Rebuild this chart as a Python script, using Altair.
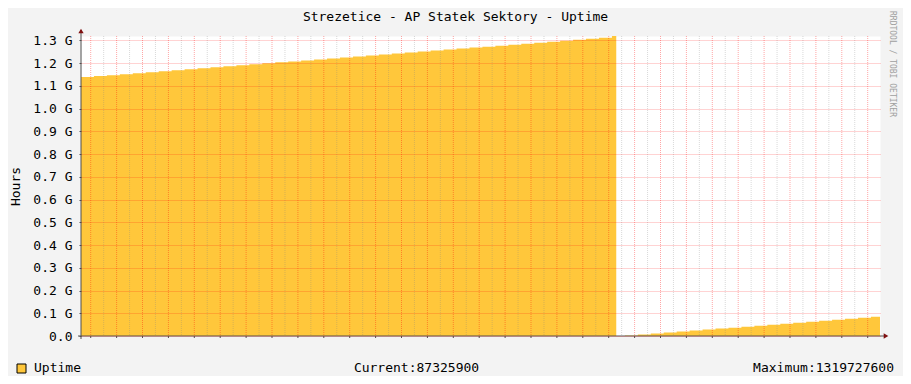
import json
import altair as alt
import pandas as pd

# ---------------- data ----------------
title_text = "Strezetice - AP Statek Sektory - Uptime"
y_title = "Hours"
series_name = "Uptime"
watermark = "RRDTOOL / TOBI OETIKER"
current_value = 87325900
maximum_value = 1319727600

# hours relative to Wednesday 00:00 of the first full day
hours = [-9, 3, 15, 27, 39, 51, 63, 75, 87, 99, 111, 123, 135, 147, 159, 171,
         183, 195, 207, 219, 231, 243, 255, 267, 279, 291, 303, 315, 327, 339,
         351, 363, 375, 387, 399, 411, 423, 435, 447, 459, 471, 483,
         487,
         495, 507, 519, 531, 543, 555, 567, 579, 591, 603, 615, 627, 639, 651,
         663, 675, 687, 699, 711, 723,
         731.4]

# uptime values in millions
uptime_millions = [1139.0, 1143.3, 1147.6, 1152.0, 1156.3, 1160.6, 1164.9, 1169.2,
                   1173.6, 1177.9, 1182.2, 1186.5, 1190.8, 1195.2, 1199.5, 1203.8,
                   1208.1, 1212.4, 1216.8, 1221.1, 1225.4, 1229.7, 1234.0, 1238.4,
                   1242.7, 1247.0, 1251.3, 1255.6, 1260.0, 1264.3, 1268.6, 1272.9,
                   1277.2, 1281.6, 1285.9, 1290.2, 1294.5, 1298.8, 1303.2, 1307.5,
                   1311.8, 1319.7276,
                   0.0,
                   2.2, 6.6, 10.9, 15.2, 19.5, 23.8, 28.2, 32.5, 36.8, 41.1,
                   45.4, 49.8, 54.1, 58.4, 62.7, 67.0, 71.4, 75.7, 80.0, 84.3,
                   84.3]

day_names = ["Wed", "Thu", "Fri", "Sat", "Sun", "Mon", "Tue"]
label_hours = [36, 84, 132, 180, 228, 276, 324, 372, 420, 468, 516, 564, 612, 660, 708]
midnight_hours = [0, 24, 48, 72, 96, 120, 144, 168, 192, 216, 240, 264, 288, 312, 336,
                  360, 384, 408, 432, 456, 480, 504, 528, 552, 576, 600, 624, 648, 672,
                  696, 720]
noon_hours = [12, 36, 60, 84, 108, 132, 156, 180, 204, 228, 252, 276, 300, 324, 348,
              372, 396, 420, 444, 468, 492, 516, 540, 564, 588, 612, 636, 660, 684, 708]
y_ticks = [0, 100, 200, 300, 400, 500, 600, 700, 800, 900, 1000, 1100, 1200, 1300]

# ---------------- layout / style ----------------
W, H = 799, 300
X_DOMAIN = [-9, 731.4]
Y_DOMAIN = [0, maximum_value / 1e6]
FONT = "DejaVu Sans Mono"
FS = 13
ORANGE = "#FFC73B"
AXIS_COL = "#505050"
ARROW_COL = "#7F1010"

df = pd.DataFrame({"h": hours, "v": uptime_millions})
xs = alt.Scale(domain=X_DOMAIN, nice=False, zero=False)
ys = alt.Scale(domain=Y_DOMAIN, nice=False, zero=True)

label_expr = json.dumps(day_names) + "[floor(datum.value / 24) % 7]"

area = alt.Chart(df).mark_area(
    interpolate="step-after", color=ORANGE, opacity=1
).encode(
    x=alt.X("h:Q", scale=xs, axis=alt.Axis(
        values=label_hours, labelExpr=label_expr, domain=False, ticks=False,
        grid=False, labelFont=FONT, labelFontSize=FS, labelColor="black",
        labelPadding=5, title=None, labelFlush=False, labelOverlap=False)),
    y=alt.Y("v:Q", scale=ys, axis=alt.Axis(
        values=y_ticks,
        labelExpr="datum.value == 0 ? '0.0' : format(datum.value / 1000, '.1f') + ' G'",
        domain=False, ticks=True, tickSize=2, tickColor=AXIS_COL,
        labelFont=FONT, labelFontSize=FS, labelColor="black", labelPadding=7,
        grid=True, gridColor="#FF0000", gridOpacity=0.35, gridDash=[1, 1],
        zindex=1, title=y_title, titleFont=FONT, titleFontSize=FS,
        titleFontWeight="normal", titleColor="black", titleX=-66, titleY=H / 2,
        titleAngle=270, titleAlign="center", titleBaseline="middle",
        labelOverlap=False, labelFlush=False)),
)

mid_df = pd.DataFrame({"h": midnight_hours})
noon_df = pd.DataFrame({"h": noon_hours})

grid_mid = alt.Chart(mid_df).mark_rule(
    color="#FF0000", opacity=0.35, strokeDash=[1, 1], strokeWidth=1
).encode(x=alt.X("h:Q", scale=xs, axis=None), y=alt.value(0), y2=alt.value(H))

grid_noon = alt.Chart(noon_df).mark_rule(
    color="#808080", opacity=0.3, strokeDash=[1, 1], strokeWidth=1
).encode(x=alt.X("h:Q", scale=xs, axis=None), y=alt.value(0), y2=alt.value(H))

x_ticks = alt.Chart(mid_df).mark_rule(color=AXIS_COL, strokeWidth=1).encode(
    x=alt.X("h:Q", scale=xs, axis=None), y=alt.value(H), y2=alt.value(H + 2))

one = pd.DataFrame({"k": [0]})
y_axis_line = alt.Chart(one).mark_rule(color=AXIS_COL, strokeWidth=1).encode(
    x=alt.value(0), y=alt.value(-6), y2=alt.value(H + 3))
x_axis_line = alt.Chart(one).mark_rule(color=AXIS_COL, strokeWidth=1).encode(
    x=alt.value(-3), x2=alt.value(W + 4), y=alt.value(H))
arrow_up = alt.Chart(one).mark_point(
    shape="triangle-up", filled=True, color=ARROW_COL, size=28, opacity=1
).encode(x=alt.value(0), y=alt.value(-5))
arrow_right = alt.Chart(one).mark_point(
    shape="triangle-right", filled=True, color=ARROW_COL, size=28, opacity=1
).encode(x=alt.value(W + 6), y=alt.value(H))

texts = pd.DataFrame({
    "t": [title_text, series_name, f"Current:{current_value}", f"Maximum:{maximum_value}"],
})

title_mark = alt.Chart(texts.iloc[[0]]).mark_text(
    font=FONT, fontSize=FS, color="black", align="center", baseline="middle"
).encode(x=alt.value(374.5), y=alt.value(-19), text="t:N")

legend_label = alt.Chart(texts.iloc[[1]]).mark_text(
    font=FONT, fontSize=FS, color="black", align="left", baseline="middle"
).encode(x=alt.value(-47), y=alt.value(332), text="t:N")

current_label = alt.Chart(texts.iloc[[2]]).mark_text(
    font=FONT, fontSize=FS, color="black", align="center", baseline="middle"
).encode(x=alt.value(335.5), y=alt.value(332), text="t:N")

max_label = alt.Chart(texts.iloc[[3]]).mark_text(
    font=FONT, fontSize=FS, color="black", align="right", baseline="middle"
).encode(x=alt.value(813), y=alt.value(332), text="t:N")

swatch = alt.Chart(one).mark_square(
    size=81, fill=ORANGE, stroke="black", strokeWidth=1, opacity=1, filled=True
).encode(x=alt.value(-59.5), y=alt.value(332.5))

wm_df = pd.DataFrame({"t": [watermark]})
wm = alt.Chart(wm_df).mark_text(
    font=FONT, fontSize=8, color="#A0A0A0", align="left", baseline="middle", angle=90
).encode(x=alt.value(811), y=alt.value(-25), text="t:N")

chart = alt.layer(
    area, grid_noon, grid_mid, x_ticks, y_axis_line, x_axis_line, arrow_up, arrow_right,
    title_mark, legend_label, current_label, max_label, swatch, wm,
).properties(
    width=W, height=H,
    padding={"left": 73, "top": 28, "right": 23, "bottom": 40},
    autosize=alt.AutoSizeParams(type="none"),
).configure(
    background="#F3F3F3",
).configure_view(
    fill="white", stroke="transparent",
)

chart.save("out.html", embed_options={"renderer": "svg", "actions": False})
